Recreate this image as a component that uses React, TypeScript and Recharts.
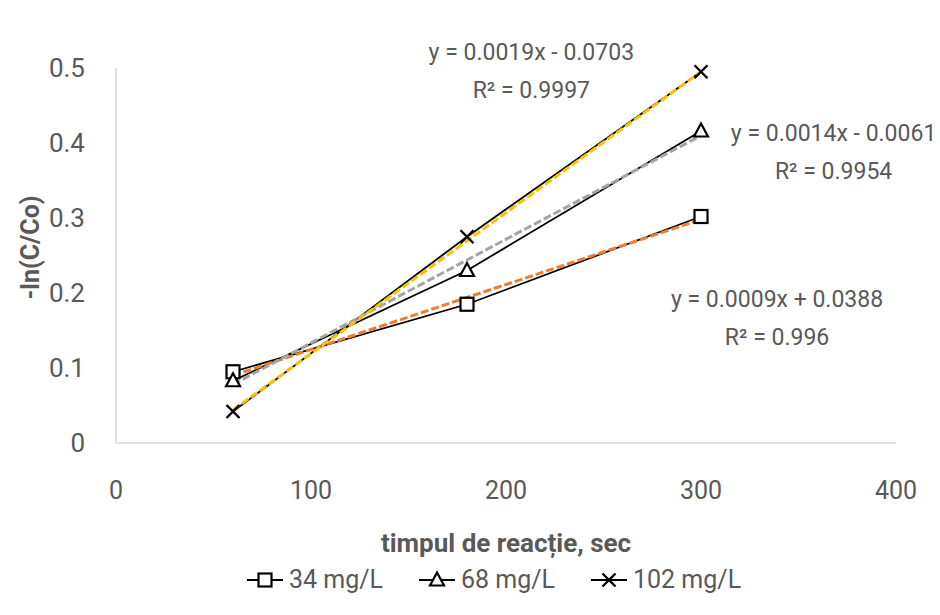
import { LineChart, Line, XAxis, YAxis, ReferenceDot } from "recharts";

const times = [60, 180, 300];
const c34 = [0.095, 0.185, 0.302];
const c68 = [0.083, 0.23, 0.416];
const c102 = [0.042, 0.275, 0.495];

// trendline ends
const trendX = [60, 300];
const trend34 = [0.09, 0.298];
const trend68 = [0.078, 0.41];
const trend102 = [0.044, 0.495];

const seriesNames = ["34 mg/L", "68 mg/L", "102 mg/L"];
const equations = ["y = 0.0009x + 0.0388", "y = 0.0014x - 0.0061", "y = 0.0019x - 0.0703"];
const rSquared = ["R² = 0.996", "R² = 0.9954", "R² = 0.9997"];
const labelX = [339, 368, 213];
const labelY = [0.192, 0.413, 0.521];

const xTicks = [0, 100, 200, 300, 400];
const yTicks = [0, 0.1, 0.2, 0.3, 0.4, 0.5];

const FONT = 'Roboto, "Liberation Sans", sans-serif';
const GREY = "#595959";
const trendColors = ["#ED7D31", "#A5A5A5", "#FFC000"];

const toPoints = (xs: number[], ys: number[]) => xs.map((x, i) => ({ x, y: ys[i] }));

function Square({ cx, cy }: { cx: number; cy: number }) {
  return <rect x={cx - 6.5} y={cy - 6.5} width={13} height={13} fill="#fff" stroke="#000" strokeWidth={2.2} />;
}

function Triangle({ cx, cy }: { cx: number; cy: number }) {
  return (
    <polygon
      points={`${cx},${cy - 7.5} ${cx + 7},${cy + 5.5} ${cx - 7},${cy + 5.5}`}
      fill="#fff"
      stroke="#000"
      strokeWidth={2.2}
    />
  );
}

function Cross({ cx, cy }: { cx: number; cy: number }) {
  return (
    <path d={`M${cx - 6.5},${cy - 6.5}L${cx + 6.5},${cy + 6.5}M${cx + 6.5},${cy - 6.5}L${cx - 6.5},${cy + 6.5}`} stroke="#000" strokeWidth={2.4} fill="none" />
  );
}

const markers = [Square, Triangle, Cross];
const seriesValues = [c34, c68, c102];
const trendValues = [trend34, trend68, trend102];

function LegendIcon({ idx }: { idx: number }) {
  const M = markers[idx];
  return (
    <svg width={36} height={20} style={{ verticalAlign: "middle" }}>
      <line x1={0} y1={10} x2={36} y2={10} stroke="#000" strokeWidth={2} />
      <M cx={18} cy={10} />
    </svg>
  );
}

export default function App() {
  return (
    <div style={{ position: "absolute", left: 0, top: 0, width: 940, height: 615, background: "#fff", fontFamily: FONT }}>
      <LineChart width={940} height={615} margin={{ top: 68, right: 44, left: 0, bottom: 52 }}>
        <XAxis
          type="number"
          dataKey="x"
          domain={[0, 400]}
          ticks={xTicks}
          tickLine={false}
          axisLine={{ stroke: "#d9d9d9", strokeWidth: 1.5 }}
          tick={{ fill: GREY, fontSize: 25, fontFamily: FONT }}
          tickMargin={32}
          height={120}
          allowDataOverflow
          label={{
            content: ({ viewBox }: any) => (
              <text
                x={viewBox.x + viewBox.width / 2}
                y={viewBox.y + 109}
                textAnchor="middle"
                fill={GREY}
                fontSize={26}
                fontWeight="bold"
                fontFamily={FONT}
              >
                timpul de reacție, sec
              </text>
            ),
          }}
        />
        <YAxis
          type="number"
          dataKey="y"
          domain={[0, 0.5]}
          ticks={yTicks}
          tickLine={false}
          axisLine={{ stroke: "#d9d9d9", strokeWidth: 1.5 }}
          tick={{ fill: GREY, fontSize: 26, fontFamily: FONT }}
          tickMargin={25}
          width={116}
          label={{
            content: ({ viewBox }: any) => {
              const cx = viewBox.x + 30;
              const cy = viewBox.y + viewBox.height / 2 - 8;
              return (
                <text
                  x={cx}
                  y={cy}
                  transform={`rotate(-90 ${cx} ${cy})`}
                  textAnchor="middle"
                  dominantBaseline="central"
                  fill={GREY}
                  fontSize={25}
                  fontWeight="bold"
                  fontFamily={FONT}
                >
                  -ln(C/Co)
                </text>
              );
            },
          }}
        />

        {seriesValues.map((vals, i) => (
          <Line
            key={`s${i}`}
            data={toPoints(times, vals)}
            dataKey="y"
            stroke="#000"
            strokeWidth={1.8}
            dot={false}
            activeDot={false}
            isAnimationActive={false}
            name={seriesNames[i]}
          />
        ))}

        {trendValues.map((vals, i) => (
          <Line
            key={`t${i}`}
            data={toPoints(trendX, vals)}
            dataKey="y"
            stroke={trendColors[i]}
            strokeWidth={3}
            strokeDasharray="8 3"
            dot={false}
            activeDot={false}
            isAnimationActive={false}
          />
        ))}

        {seriesValues.map((vals, i) => {
          const M = markers[i];
          return (
            <Line
              key={`m${i}`}
              data={toPoints(times, vals)}
              dataKey="y"
              stroke="none"
              dot={(p: any) => <M key={`d${i}-${p.index}`} cx={p.cx} cy={p.cy} />}
              activeDot={false}
              isAnimationActive={false}
            />
          );
        })}

        {equations.map((eq, i) => (
          <ReferenceDot
            key={`e${i}`}
            x={labelX[i]}
            y={labelY[i]}
            r={0}
            ifOverflow="visible"
            shape={(p: any) => (
              <text
                x={p.cx}
                y={p.cy}
                textAnchor="middle"
                dominantBaseline="central"
                fill={GREY}
                fontSize={23}
                fontFamily={FONT}
              >
                <tspan x={p.cx} dy={0}>{eq}</tspan>
                <tspan x={p.cx} dy={38}>{rSquared[i]}</tspan>
              </text>
            )}
          />
        ))}
      </LineChart>

      <div
        style={{
          position: "absolute",
          top: 564,
          left: 0,
          width: 988,
          display: "flex",
          justifyContent: "center",
          gap: 36,
          color: GREY,
          fontSize: 25,
          lineHeight: "32px",
        }}
      >
        {seriesNames.map((n, i) => (
          <span key={n} style={{ display: "inline-flex", alignItems: "center", gap: 6 }}>
            <LegendIcon idx={i} />
            {n}
          </span>
        ))}
      </div>
    </div>
  );
}
